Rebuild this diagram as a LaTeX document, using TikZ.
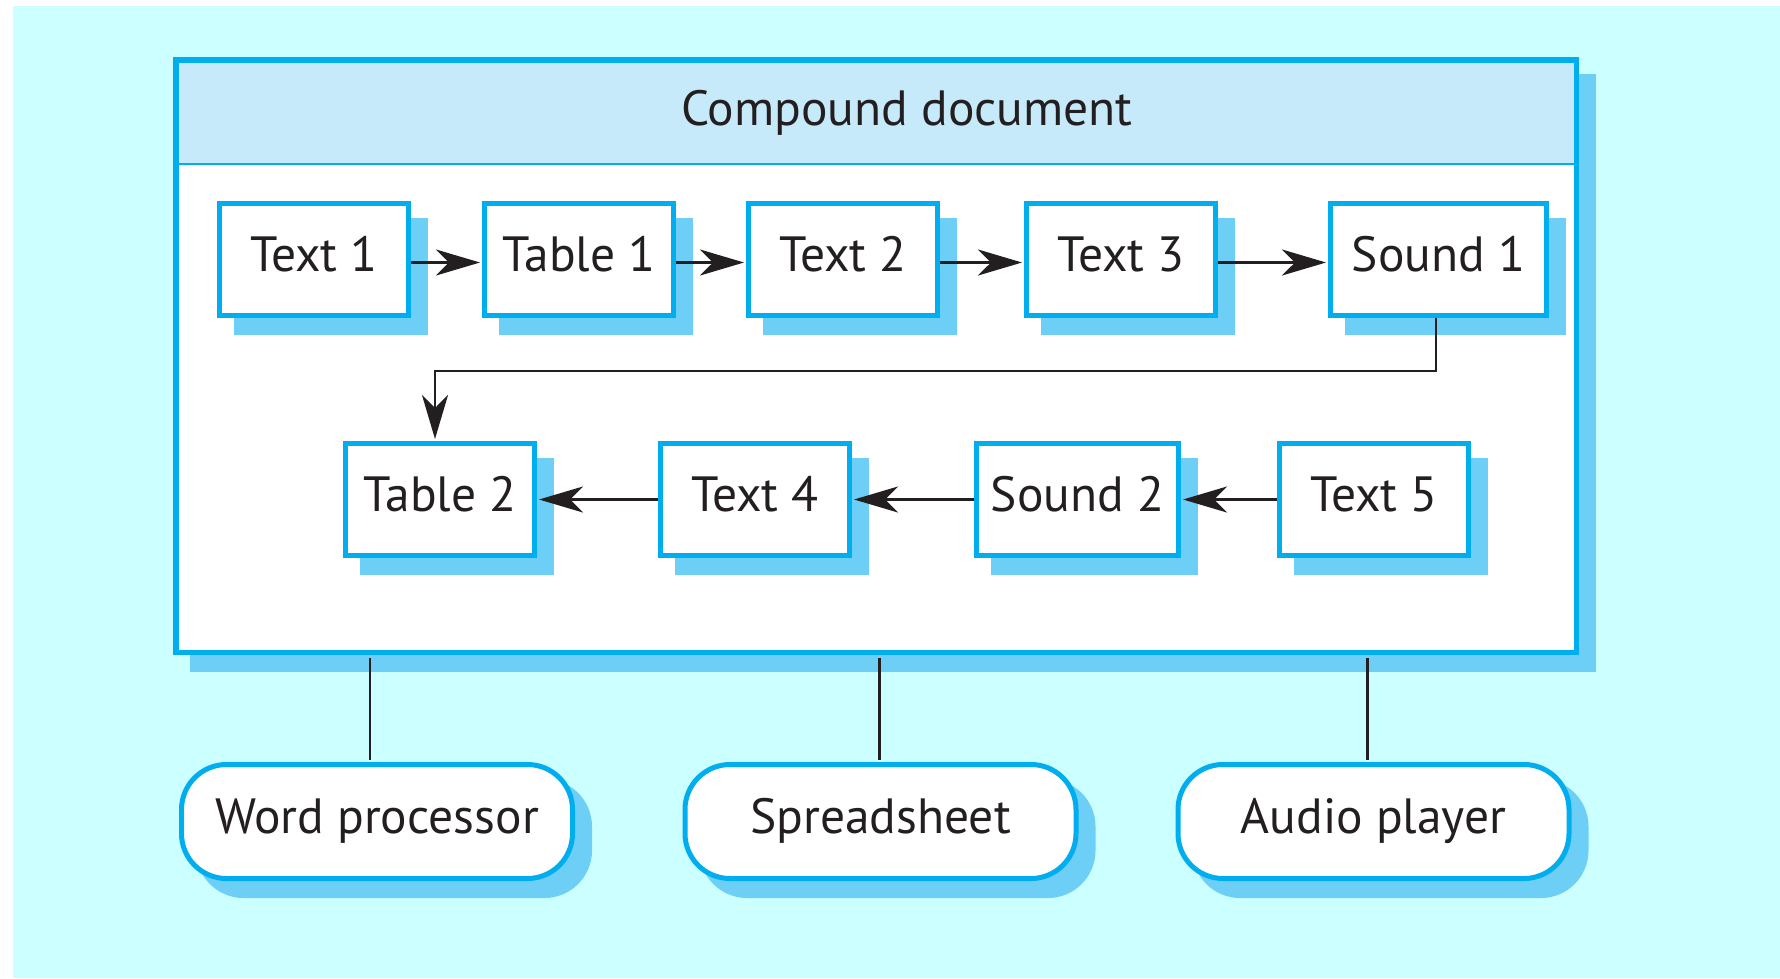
\documentclass[tikz,border=0pt]{standalone}
\usepackage{fontspec}
\setmainfont{PT Sans}
\usetikzlibrary{arrows.meta}
\definecolor{bgcyan}{HTML}{CCFFFF}
\definecolor{boxblue}{HTML}{00AEEF}
\definecolor{shadeblue}{HTML}{6DCFF6}
\definecolor{headblue}{HTML}{C7EAFA}
\definecolor{ink}{HTML}{231F20}
\begin{document}
\begin{tikzpicture}[x=1pt,y=-1pt,
  shadowed/.style={preaction={fill=shadeblue,draw=shadeblue,transform canvas={xshift=17pt,yshift=-17pt}}},
  label font/.style={font=\fontsize{49.5}{58}\selectfont,text=ink,text height=35pt,text depth=10.5pt},
  part/.style={shadowed,draw=boxblue,fill=white,line width=5pt,minimum height=112pt,inner sep=0pt,label font},
  narrow/.style={part,minimum width=189pt},
  app/.style={shadowed,draw=boxblue,fill=white,line width=5pt,rounded corners=45pt,minimum height=114pt,minimum width=391pt,inner sep=0pt,label font},
  docbox/.style={shadowed,draw=boxblue,fill=white,line width=5.5pt,minimum width=1400.5pt,minimum height=592.5pt,inner sep=0pt},
  headbox/.style={fill=headblue,draw=none,minimum width=1395pt,minimum height=101.5pt,inner sep=0pt},
  arrow/.style={draw=ink,line width=2.5pt,-{Stealth[length=44pt,width=26pt,inset=13pt]},shorten >=2pt},
  link/.style={draw=ink,line width=2.5pt,shorten <=2.75pt,shorten >=2.5pt}
]
\useasboundingbox (0,0) rectangle (1780,978);
\fill[bgcyan] (13,6) rectangle (1780,978);

% compound document frame
\node[docbox] (doc) at (876,356) {};
\node[headbox] (head) at (876,113.25) {};
\draw[boxblue,line width=2pt] (head.south west) -- (head.south east);
\node[label font] (title) at (907,113.5) {Compound document};

% first row
\node[narrow] (t1)  at (314,259.5) {Text 1};
\node[narrow] (tb1) at (579,259.5) {Table 1};
\node[narrow] (t2)  at (843,259.5) {Text 2};
\node[narrow] (t3)  at (1121,259.5) {Text 3};
\node[part,minimum width=216pt] (s1) at (1438.5,259.5) {Sound 1};

% second row
\node[narrow] (tb2) at (440,499.5) {Table 2};
\node[narrow] (t4)  at (755,499.5) {Text 4};
\node[part,minimum width=202pt] (s2) at (1077.5,499.5) {Sound 2};
\node[narrow] (t5)  at (1374,499.5) {Text 5};

% applications
\node[app] (wp) at (377,821.5) {Word processor};
\node[app] (ss) at (880.5,821.5) {Spreadsheet};
\node[app] (ap) at (1373.5,821.5) {Audio player};

% sequence connectors
\draw[arrow] ([yshift=-3pt]t1.east) -- ([yshift=-3pt]tb1.west);
\draw[arrow] ([yshift=-3pt]tb1.east) -- ([yshift=-3pt]t2.west);
\draw[arrow] ([yshift=-3pt]t2.east) -- ([yshift=-3pt]t3.west);
\draw[arrow] ([yshift=-3pt]t3.east) -- ([yshift=-3pt]s1.west);
\coordinate (bend) at (0,371);
\draw[arrow] ([xshift=-2.5pt]s1.south) |- ([xshift=-5pt]bend -| tb2.north) -- ([xshift=-5pt]tb2.north);
\draw[arrow] (t5.west) -- (s2.east);
\draw[arrow] (s2.west) -- (t4.east);
\draw[arrow] (t4.west) -- (tb2.east);

% application links
\draw[link] ([xshift=-7pt]wp.north |- doc.south) -- ([xshift=-7pt]wp.north);
\draw[link] ([xshift=-1pt]ss.north |- doc.south) -- ([xshift=-1pt]ss.north);
\draw[link] ([xshift=-6pt]ap.north |- doc.south) -- ([xshift=-6pt]ap.north);
\end{tikzpicture}
\end{document}
